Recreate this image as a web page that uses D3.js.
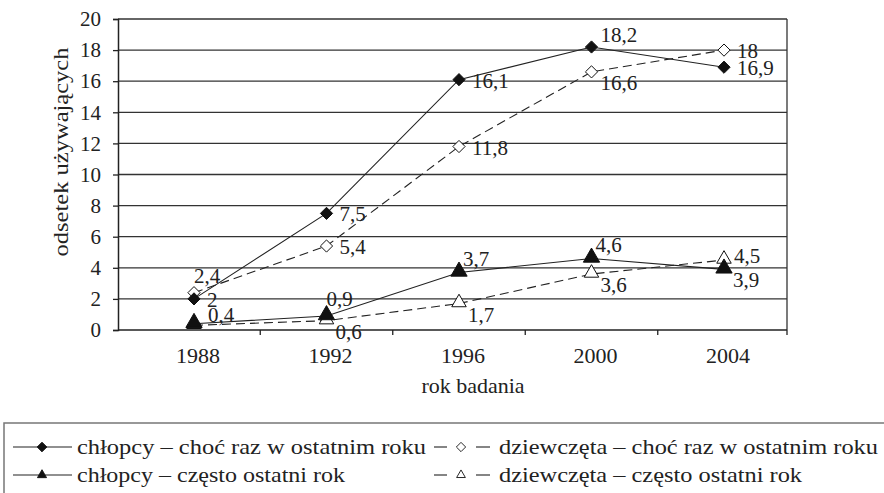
<!DOCTYPE html>
<html>
<head>
<meta charset="utf-8">
<script src="https://cdn.jsdelivr.net/npm/d3@7"></script>
<style>
  body { margin: 0; background: #fff; }
</style>
</head>
<body>
<script>
// data
var years = ["1988", "1992", "1996", "2000", "2004"];
var boysOnce = [2, 7.5, 16.1, 18.2, 16.9];
var girlsOnce = [2.4, 5.4, 11.8, 16.6, 18];
var boysOften = [0.4, 0.9, 3.7, 4.6, 3.9];
var girlsOften = [0.3, 0.6, 1.7, 3.6, 4.5];
var yTicks = [0, 2, 4, 6, 8, 10, 12, 14, 16, 18, 20];

// where each value label sits relative to its point
var labelPlace = {
  boysOnce:   ["r", "r", "r", "ar", "r"],
  girlsOnce:  ["a", "r", "r", "br", "r"],
  boysOften:  ["rr", "a", "at", "at", "br"],
  girlsOften: [null, "br", "br", "br", "rs"]
};

// girls first so the filled markers lie on top
var series = [
  { key: "girlsOnce", values: girlsOnce, name: "dziewczęta – choć raz w ostatnim roku", dash: "9,5", marker: "diamond", fill: "#fff" },
  { key: "girlsOften", values: girlsOften, name: "dziewczęta – często ostatni rok", dash: "9,5", marker: "triangle", fill: "#fff" },
  { key: "boysOnce", values: boysOnce, name: "chłopcy – choć raz w ostatnim roku", dash: null, marker: "diamond", fill: "#111" },
  { key: "boysOften", values: boysOften, name: "chłopcy – często ostatni rok", dash: null, marker: "triangle", fill: "#111" }
];
var legendOrder = ["boysOnce", "girlsOnce", "boysOften", "girlsOften"];
var legendWidth = { boysOnce: 349, girlsOnce: 379, boysOften: 268, girlsOften: 303 };

var W = 884, H = 493;
var pLeft = 118, pRight = 787, pTop = 19, pBottom = 330;
var FONT = "Liberation Serif";

var svg = d3.select("body").append("svg")
  .attr("width", W)
  .attr("height", H)
  .attr("font-family", FONT);

var x = d3.scalePoint().domain(years).range([194, 724]);
var y = d3.scaleLinear().domain([0, 20]).range([pBottom, pTop]);
var fmt = function (v) { return String(v).replace(".", ","); };

// grid lines
svg.append("g").selectAll("line")
  .data(yTicks.filter(function (d) { return d > 0; }))
  .join("line")
  .attr("x1", pLeft).attr("x2", pRight)
  .attr("y1", function (d) { return y(d); })
  .attr("y2", function (d) { return y(d); })
  .attr("stroke", "#333")
  .attr("stroke-width", 1.3);

// right border
svg.append("line")
  .attr("x1", pRight).attr("x2", pRight)
  .attr("y1", pTop).attr("y2", pBottom)
  .attr("stroke", "#333").attr("stroke-width", 1.3);

// y axis
var yAxis = svg.append("g")
  .attr("transform", "translate(" + pLeft + ",0)")
  .call(d3.axisLeft(y).tickValues(yTicks).tickSize(5).tickPadding(12));
yAxis.attr("font-family", FONT).attr("font-size", 21);
yAxis.select(".domain").attr("stroke", "#222").attr("stroke-width", 1.5);
yAxis.selectAll(".tick line").attr("stroke", "#222").attr("stroke-width", 1.3);
yAxis.selectAll("text").attr("fill", "#222").attr("font-family", FONT);

// x axis: labels at points, ticks between categories
var step = x.step();
var xAxis = svg.append("g").attr("transform", "translate(0," + pBottom + ")");
xAxis.append("line")
  .attr("x1", pLeft).attr("x2", pRight)
  .attr("stroke", "#222").attr("stroke-width", 1.5);
xAxis.selectAll(".tk")
  .data(years)
  .join("line")
  .attr("class", "tk")
  .attr("x1", function (d) { return Math.min(x(d) + step / 2, pRight); })
  .attr("x2", function (d) { return Math.min(x(d) + step / 2, pRight); })
  .attr("y1", 0).attr("y2", 5)
  .attr("stroke", "#222").attr("stroke-width", 1.3);
xAxis.selectAll(".lbl")
  .data(years)
  .join("text")
  .attr("class", "lbl")
  .attr("x", function (d) { return x(d) + 4; })
  .attr("y", 33)
  .attr("text-anchor", "middle")
  .attr("font-family", FONT)
  .attr("font-size", 22)
  .attr("fill", "#222")
  .text(function (d) { return d; });

// axis titles
svg.append("text")
  .attr("x", 473).attr("y", 393)
  .attr("text-anchor", "middle")
  .attr("font-family", FONT)
  .attr("font-size", 22)
  .attr("fill", "#222")
  .text("rok badania");
svg.append("text")
  .attr("transform", "translate(68,152) rotate(-90)")
  .attr("text-anchor", "middle")
  .attr("font-family", FONT)
  .attr("font-size", 22)
  .attr("textLength", 209)
  .attr("lengthAdjust", "spacingAndGlyphs")
  .attr("fill", "#222")
  .text("odsetek używających");

function markerPath(type, size) {
  return d3.symbol().type(type === "diamond" ? d3.symbolDiamond2 : d3.symbolTriangle2).size(size)();
}

// lines + markers + labels
var line = d3.line()
  .x(function (d, i) { return x(years[i]); })
  .y(function (d) { return y(d); });

series.forEach(function (s) {
  svg.append("path")
    .datum(s.values)
    .attr("d", line)
    .attr("fill", "none")
    .attr("stroke", "#222")
    .attr("stroke-width", 1.1)
    .attr("stroke-dasharray", s.dash);
});

series.forEach(function (s) {
  var big = s.marker === "triangle";
  svg.append("g").selectAll("path")
    .data(s.values)
    .join("path")
    .attr("transform", function (d, i) { return "translate(" + x(years[i]) + "," + (y(d) - (big ? 1 : 0)) + ")"; })
    .attr("d", markerPath(s.marker, big ? (s.fill === "#fff" ? 150 : 190) : 95))
    .attr("fill", s.fill)
    .attr("stroke", "#111")
    .attr("stroke-width", 1);
});

var offs = {
  r: [13, 8], rs: [10, 3], rr: [14, -2],
  ar: [9, -5], at: [4, -6], a: [0, -10], br: [9, 18]
};
series.forEach(function (s) {
  var places = labelPlace[s.key];
  svg.append("g").selectAll("text")
    .data(s.values.map(function (v, i) { return { v: v, i: i, p: places[i] }; }).filter(function (d) { return d.p; }))
    .join("text")
    .attr("x", function (d) { return x(years[d.i]) + offs[d.p][0]; })
    .attr("y", function (d) { return y(d.v) + offs[d.p][1]; })
    .attr("font-family", FONT)
    .attr("font-size", 21)
    .attr("fill", "#222")
    .text(function (d) { return fmt(d.v); });
});

// legend
var lg = svg.append("g");
lg.append("rect")
  .attr("x", 4).attr("y", 423)
  .attr("width", 890).attr("height", 80)
  .attr("fill", "none")
  .attr("stroke", "#777").attr("stroke-width", 1.5);

var cols = [13, 434];
var rows = [447, 475];
legendOrder.forEach(function (k, i) {
  var s = series.find(function (t) { return t.key === k; });
  var gx = cols[i % 2], gy = rows[Math.floor(i / 2)];
  var item = lg.append("g").attr("transform", "translate(" + gx + "," + gy + ")");
  if (s.dash) {
    item.append("line").attr("x1", 0).attr("x2", 13).attr("stroke", "#222").attr("stroke-width", 1.1);
    item.append("line").attr("x1", 42).attr("x2", 56).attr("stroke", "#222").attr("stroke-width", 1.1);
  } else {
    item.append("line").attr("x1", 0).attr("x2", 59).attr("stroke", "#222").attr("stroke-width", 1.1);
  }
  item.append("path")
    .attr("transform", "translate(" + (s.dash ? 27 : 29) + ",0)")
    .attr("d", markerPath(s.marker, s.fill === "#fff" ? 55 : 60))
    .attr("fill", s.fill)
    .attr("stroke", "#111")
    .attr("stroke-width", 0.9);
  item.append("text")
    .attr("x", s.dash ? 65 : 64)
    .attr("y", 7)
    .attr("font-family", FONT)
    .attr("font-size", 22)
    .attr("textLength", legendWidth[k])
    .attr("lengthAdjust", "spacingAndGlyphs")
    .attr("fill", "#222")
    .text(s.name);
});
</script>
</body>
</html>
